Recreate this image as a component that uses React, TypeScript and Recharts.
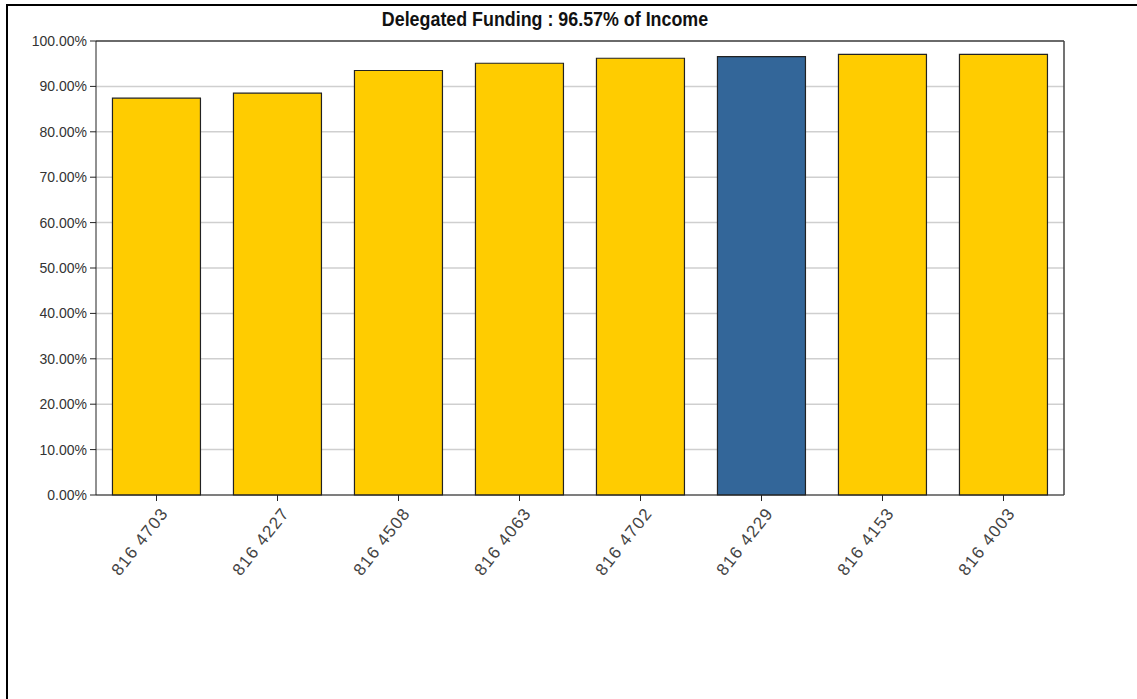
import React from "react";
import { BarChart, Bar, XAxis, YAxis, CartesianGrid, ReferenceLine, Cell } from "recharts";

// account codes along the x axis
const codes = ["816 4703", "816 4227", "816 4508", "816 4063", "816 4702", "816 4229", "816 4153", "816 4003"];
// delegated funding as % of income
const shares = [87.4, 88.5, 93.5, 95.1, 96.2, 96.57, 97.05, 97.05];
const yTicks = [0, 10, 20, 30, 40, 50, 60, 70, 80, 90, 100];
const highlighted = "816 4229";
const title = "Delegated Funding : 96.57% of Income";

const data = codes.map((code, i) => ({ code, share: shares[i] }));

const tickFont = { fontFamily: "'Liberation Sans', Arial, sans-serif", fontSize: 14, fill: "#333" };

const App = () => {
  return (
    <div
      style={{
        position: "absolute",
        left: 0,
        top: 0,
        width: 1137,
        height: 699,
        background: "#fff",
        overflow: "hidden",
      }}
    >
      {/* outer frame, only top and left edges show */}
      <div
        style={{
          position: "absolute",
          left: 6,
          top: 4,
          width: 1140,
          height: 700,
          borderTop: "2px solid #000",
          borderLeft: "2px solid #000",
        }}
      />
      <div
        style={{
          position: "absolute",
          left: 245,
          width: 600,
          top: 6,
          textAlign: "center",
          fontFamily: "'Liberation Sans', Arial, sans-serif",
          fontWeight: "bold",
          fontSize: 21,
          lineHeight: "26px",
          color: "#111",
          transform: "scaleX(0.85)",
        }}
      >
        {title}
      </div>
      <div style={{ position: "absolute", left: 0, top: 0 }}>
        <BarChart
          width={1137}
          height={699}
          data={data}
          margin={{ top: 41, right: 72, bottom: 124, left: 0 }}
          barCategoryGap="13.6%"
        >
          <CartesianGrid vertical={false} stroke="#cfcfcf" strokeWidth={1.5} />
          <XAxis
            dataKey="code"
            height={80}
            interval={0}
            stroke="#222"
            tickSize={6}
            tickLine={{ stroke: "#222" }}
            tick={{ ...tickFont, fontSize: 17, letterSpacing: 1.2, fill: "#444" }}
            angle={-52}
            textAnchor="end"
            dx={3}
            dy={3}
          />
          <YAxis
            width={96}
            domain={[0, 100]}
            ticks={yTicks}
            interval={0}
            stroke="#222"
            tickSize={6}
            tickMargin={3}
            tick={tickFont}
            tickFormatter={(v: number) => `${v.toFixed(2)}%`}
          />
          <YAxis
            yAxisId="frame"
            orientation="right"
            width={1}
            tick={false}
            tickLine={false}
            axisLine={{ stroke: "#444", strokeWidth: 1.5 }}
            domain={[0, 100]}
          />
          <ReferenceLine y={100} stroke="#444" strokeWidth={1.5} />
          <Bar dataKey="share" stroke="#222" strokeWidth={1.2} isAnimationActive={false}>
            {data.map((d) => (
              <Cell key={d.code} fill={d.code === highlighted ? "#336699" : "#FFCC00"} />
            ))}
          </Bar>
        </BarChart>
      </div>
    </div>
  );
};

export default App;
